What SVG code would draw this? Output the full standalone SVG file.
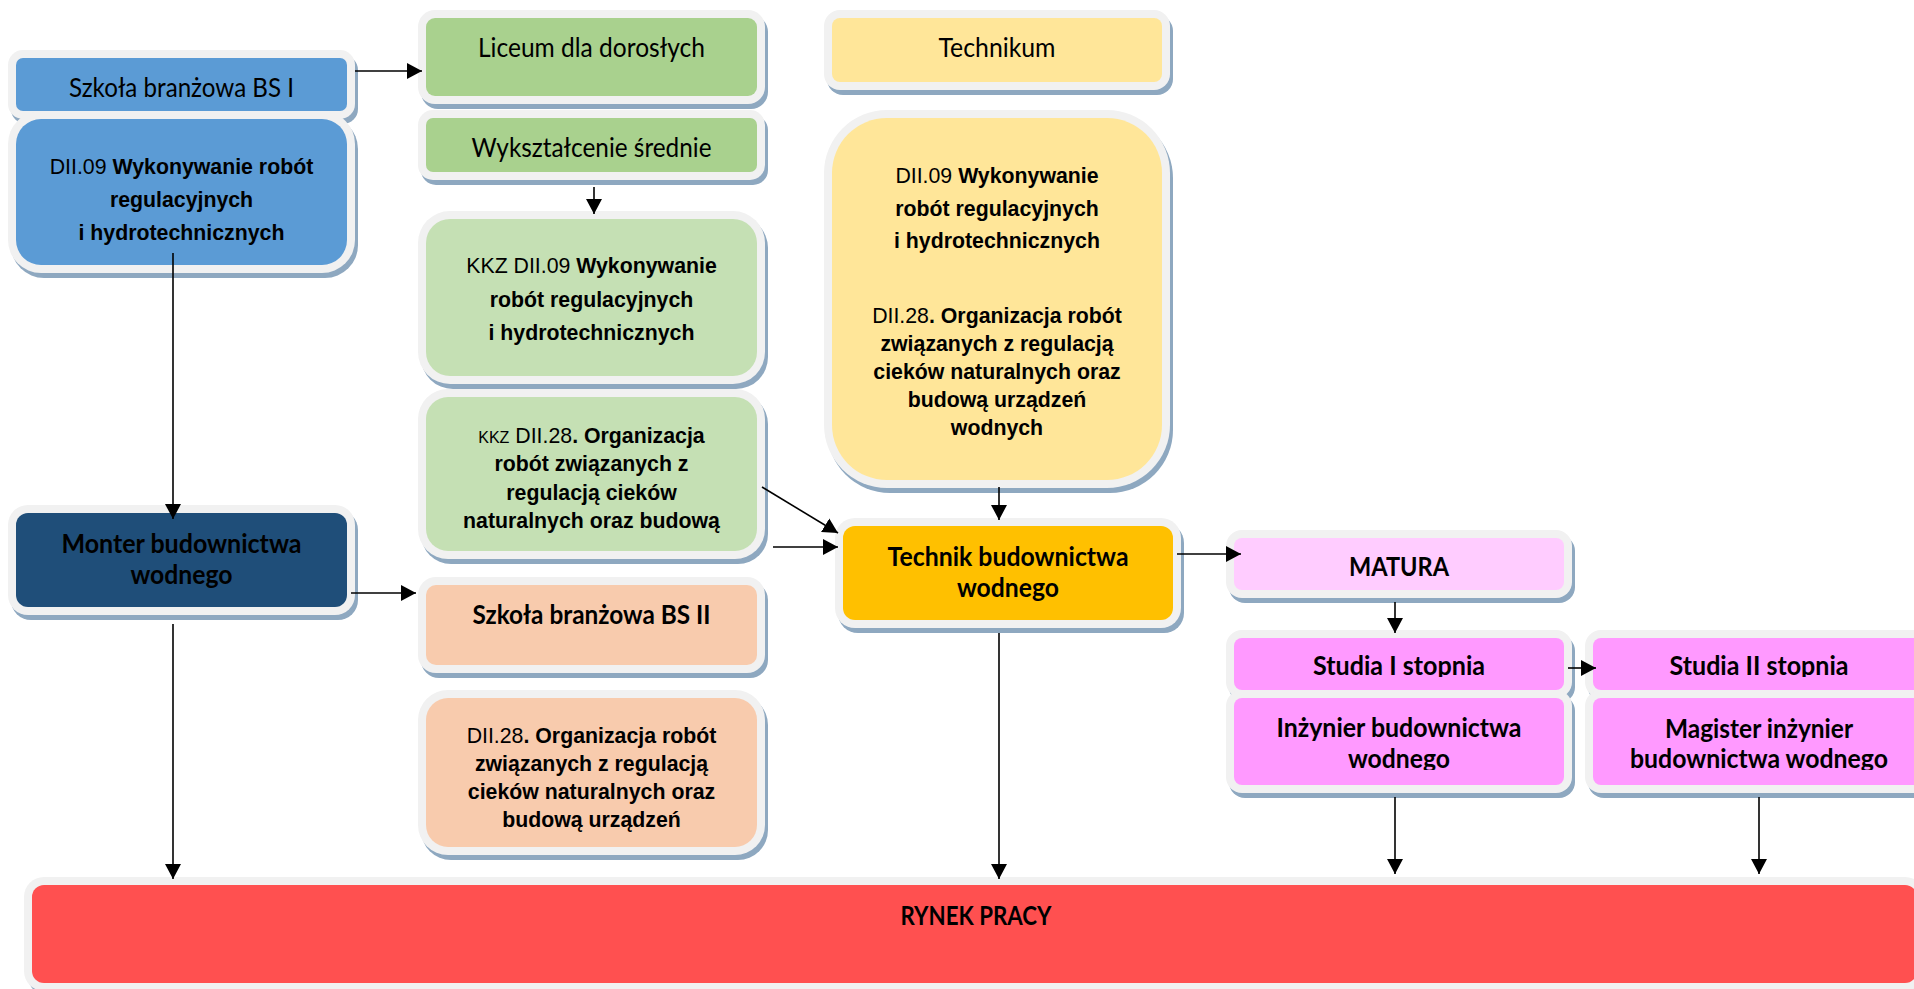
<svg xmlns="http://www.w3.org/2000/svg" width="1914" height="989" viewBox="0 0 1914 989">
<style>
.sh{fill:#8ea8c0}
.ol{fill:#f1f1f1}
.cal{font-family:Lato,"Open Sans","Liberation Sans",sans-serif;font-size:26.5px;fill:#000;text-anchor:middle}
.b{font-weight:700}
.ar{font-family:"Liberation Sans",Arial,sans-serif;font-size:21.3px;fill:#000;text-anchor:middle}
.ar tspan.bd{font-weight:700}
.conn line{stroke:#000;stroke-width:1.6;fill:none;marker-end:url(#ah)}
</style>
<defs>
<marker id="ah" markerUnits="userSpaceOnUse" markerWidth="16" markerHeight="16" refX="15" refY="8" orient="auto">
<path d="M0,0 L15,8 L0,16 z" fill="#000"/>
</marker>
<clipPath id="c1"><rect x="1234" y="638" width="330" height="39"/></clipPath>
<clipPath id="c2"><rect x="1234" y="698" width="330" height="72"/></clipPath>
<clipPath id="c3"><rect x="1593" y="638" width="332" height="39"/></clipPath>
<clipPath id="c4"><rect x="1593" y="698" width="332" height="72"/></clipPath>
</defs>
<rect width="1914" height="989" fill="#fff"/>

<g id="bs1">
<rect class="sh" x="11" y="55" width="347" height="69" rx="15"/>
<rect class="ol" x="8" y="50" width="347" height="69" rx="15"/>
<rect x="16" y="58" width="331" height="53" rx="7" fill="#5b9bd5"/>
<text class="cal" x="181.5" y="97" textLength="225" lengthAdjust="spacingAndGlyphs">Szkoła branżowa BS I</text>
</g>

<g id="dii09">
<rect class="sh" x="11" y="116" width="347" height="162" rx="33"/>
<rect class="ol" x="8" y="111" width="347" height="162" rx="33"/>
<rect x="16" y="119" width="331" height="146" rx="25" fill="#5b9bd5"/>
<text class="ar" x="181.5" y="174">DII.09 <tspan class="bd">Wykonywanie robót</tspan></text>
<text class="ar" x="181.5" y="207"><tspan class="bd">regulacyjnych</tspan></text>
<text class="ar" x="181.5" y="240"><tspan class="bd">i hydrotechnicznych</tspan></text>
</g>

<g id="monter">
<rect class="sh" x="11" y="510" width="347" height="110" rx="20"/>
<rect class="ol" x="8" y="505" width="347" height="110" rx="20"/>
<rect x="16" y="513" width="331" height="94" rx="12" fill="#1f4e79"/>
<text class="cal b" x="181.5" y="553" textLength="240" lengthAdjust="spacingAndGlyphs">Monter budownictwa</text>
<text class="cal b" x="181.5" y="584" textLength="102" lengthAdjust="spacingAndGlyphs">wodnego</text>
</g>

<g id="liceum">
<rect class="sh" x="421" y="15" width="347" height="94" rx="17"/>
<rect class="ol" x="418" y="10" width="347" height="94" rx="17"/>
<rect x="426" y="18" width="331" height="78" rx="9" fill="#a9d18e"/>
<text class="cal" x="591.5" y="57" textLength="227" lengthAdjust="spacingAndGlyphs">Liceum dla dorosłych</text>
</g>

<g id="wyksztalcenie">
<rect class="sh" x="421" y="115" width="347" height="70" rx="15"/>
<rect class="ol" x="418" y="110" width="347" height="70" rx="15"/>
<rect x="426" y="118" width="331" height="54" rx="7" fill="#a9d18e"/>
<text class="cal" x="591.5" y="157" textLength="240" lengthAdjust="spacingAndGlyphs">Wykształcenie średnie</text>
</g>

<g id="kkz09">
<rect class="sh" x="421" y="216" width="347" height="173" rx="32"/>
<rect class="ol" x="418" y="211" width="347" height="173" rx="32"/>
<rect x="426" y="219" width="331" height="157" rx="24" fill="#c5e0b4"/>
<text class="ar" x="591.5" y="273">KKZ DII.09 <tspan class="bd">Wykonywanie</tspan></text>
<text class="ar" x="591.5" y="307"><tspan class="bd">robót regulacyjnych</tspan></text>
<text class="ar" x="591.5" y="340"><tspan class="bd">i hydrotechnicznych</tspan></text>
</g>

<g id="kkz28">
<rect class="sh" x="421" y="394" width="347" height="170" rx="30"/>
<rect class="ol" x="418" y="389" width="347" height="170" rx="30"/>
<rect x="426" y="397" width="331" height="154" rx="22" fill="#c5e0b4"/>
<text class="ar" x="591.5" y="443"><tspan font-size="16">KKZ</tspan> DII.28<tspan class="bd">. Organizacja</tspan></text>
<text class="ar" x="591.5" y="471"><tspan class="bd">robót związanych z</tspan></text>
<text class="ar" x="591.5" y="500"><tspan class="bd">regulacją cieków</tspan></text>
<text class="ar" x="591.5" y="528"><tspan class="bd">naturalnych oraz budową</tspan></text>
</g>

<g id="bs2">
<rect class="sh" x="421" y="582" width="347" height="96" rx="18"/>
<rect class="ol" x="418" y="577" width="347" height="96" rx="18"/>
<rect x="426" y="585" width="331" height="80" rx="10" fill="#f8cbad"/>
<text class="cal b" x="591.5" y="624" textLength="238" lengthAdjust="spacingAndGlyphs">Szkoła branżowa BS II</text>
</g>

<g id="dii28">
<rect class="sh" x="421" y="695" width="347" height="165" rx="30"/>
<rect class="ol" x="418" y="690" width="347" height="165" rx="30"/>
<rect x="426" y="698" width="331" height="149" rx="22" fill="#f8cbad"/>
<text class="ar" x="591.5" y="743">DII.28<tspan class="bd">. Organizacja robót</tspan></text>
<text class="ar" x="591.5" y="771"><tspan class="bd">związanych z regulacją</tspan></text>
<text class="ar" x="591.5" y="799"><tspan class="bd">cieków naturalnych oraz</tspan></text>
<text class="ar" x="591.5" y="827"><tspan class="bd">budową urządzeń</tspan></text>
</g>

<g id="technikum">
<rect class="sh" x="827" y="15" width="346" height="80" rx="16"/>
<rect class="ol" x="824" y="10" width="346" height="80" rx="16"/>
<rect x="832" y="18" width="330" height="64" rx="8" fill="#ffe699"/>
<text class="cal" x="997" y="57" textLength="117" lengthAdjust="spacingAndGlyphs">Technikum</text>
</g>

<g id="technikum-kwalifikacje">
<rect class="sh" x="827" y="115" width="346" height="378" rx="63"/>
<rect class="ol" x="824" y="110" width="346" height="378" rx="63"/>
<rect x="832" y="118" width="330" height="362" rx="55" fill="#ffe699"/>
<text class="ar" x="997" y="183">DII.09 <tspan class="bd">Wykonywanie</tspan></text>
<text class="ar" x="997" y="216"><tspan class="bd">robót regulacyjnych</tspan></text>
<text class="ar" x="997" y="248"><tspan class="bd">i hydrotechnicznych</tspan></text>
<text class="ar" x="997" y="323">DII.28<tspan class="bd">. Organizacja robót</tspan></text>
<text class="ar" x="997" y="351"><tspan class="bd">związanych z regulacją</tspan></text>
<text class="ar" x="997" y="379"><tspan class="bd">cieków naturalnych oraz</tspan></text>
<text class="ar" x="997" y="407"><tspan class="bd">budową urządzeń</tspan></text>
<text class="ar" x="997" y="435"><tspan class="bd">wodnych</tspan></text>
</g>

<g id="technik">
<rect class="sh" x="838" y="523" width="346" height="110" rx="20"/>
<rect class="ol" x="835" y="518" width="346" height="110" rx="20"/>
<rect x="843" y="526" width="330" height="94" rx="12" fill="#ffc000"/>
<text class="cal b" x="1008" y="566" textLength="241" lengthAdjust="spacingAndGlyphs">Technik budownictwa</text>
<text class="cal b" x="1008" y="597" textLength="102" lengthAdjust="spacingAndGlyphs">wodnego</text>
</g>

<g id="matura">
<rect class="sh" x="1229" y="535" width="346" height="68" rx="16"/>
<rect class="ol" x="1226" y="530" width="346" height="68" rx="16"/>
<rect x="1234" y="538" width="330" height="52" rx="8" fill="#ffccff"/>
<text class="cal b" x="1399" y="576" textLength="100" lengthAdjust="spacingAndGlyphs">MATURA</text>
</g>

<g id="studia1">
<rect class="sh" x="1229" y="635" width="346" height="68" rx="16"/>
<rect class="ol" x="1226" y="630" width="346" height="68" rx="16"/>
<rect x="1234" y="638" width="330" height="52" rx="8" fill="#ff99ff"/>
<text class="cal b" x="1399" y="675" clip-path="url(#c1)" textLength="172" lengthAdjust="spacingAndGlyphs">Studia I stopnia</text>
</g>

<g id="inzynier">
<rect class="sh" x="1229" y="695" width="346" height="103" rx="16"/>
<rect class="ol" x="1226" y="690" width="346" height="103" rx="16"/>
<rect x="1234" y="698" width="330" height="87" rx="8" fill="#ff99ff"/>
<g clip-path="url(#c2)">
<text class="cal b" x="1399" y="737" textLength="245" lengthAdjust="spacingAndGlyphs">Inżynier budownictwa</text>
<text class="cal b" x="1399" y="768" textLength="102" lengthAdjust="spacingAndGlyphs">wodnego</text>
</g>
</g>

<g id="studia2">
<rect class="sh" x="1588" y="635" width="348" height="68" rx="16"/>
<rect class="ol" x="1585" y="630" width="348" height="68" rx="16"/>
<rect x="1593" y="638" width="332" height="52" rx="8" fill="#ff99ff"/>
<text class="cal b" x="1759" y="675" clip-path="url(#c3)" textLength="179" lengthAdjust="spacingAndGlyphs">Studia II stopnia</text>
</g>

<g id="magister">
<rect class="sh" x="1588" y="695" width="348" height="103" rx="16"/>
<rect class="ol" x="1585" y="690" width="348" height="103" rx="16"/>
<rect x="1593" y="698" width="332" height="87" rx="8" fill="#ff99ff"/>
<g clip-path="url(#c4)">
<text class="cal b" x="1759" y="738" textLength="188" lengthAdjust="spacingAndGlyphs">Magister inżynier</text>
<text class="cal b" x="1759" y="768" textLength="258" lengthAdjust="spacingAndGlyphs">budownictwa wodnego</text>
</g>
</g>

<g id="rynek">
<rect class="sh" x="28" y="882" width="1901" height="114" rx="20"/>
<rect class="ol" x="24" y="877" width="1901" height="114" rx="20"/>
<rect x="32" y="885" width="1885" height="98" rx="12" fill="#ff5050"/>
<text class="cal b" x="976" y="925" textLength="151" lengthAdjust="spacingAndGlyphs">RYNEK PRACY</text>
</g>

<g id="connectors" class="conn">
<line x1="355" y1="71" x2="422" y2="71"/>
<line x1="594" y1="187" x2="594" y2="214"/>
<line x1="173" y1="253" x2="173" y2="519"/>
<line x1="351" y1="593" x2="416" y2="593"/>
<line x1="173" y1="624" x2="173" y2="879"/>
<line x1="762" y1="487" x2="838" y2="533"/>
<line x1="773" y1="547" x2="838" y2="547"/>
<line x1="999" y1="487" x2="999" y2="520"/>
<line x1="1177" y1="554" x2="1241" y2="554"/>
<line x1="999" y1="633" x2="999" y2="879"/>
<line x1="1395" y1="602" x2="1395" y2="633"/>
<line x1="1568" y1="668" x2="1596" y2="668"/>
<line x1="1395" y1="797" x2="1395" y2="874"/>
<line x1="1759" y1="797" x2="1759" y2="874"/>
</g>
</svg>
